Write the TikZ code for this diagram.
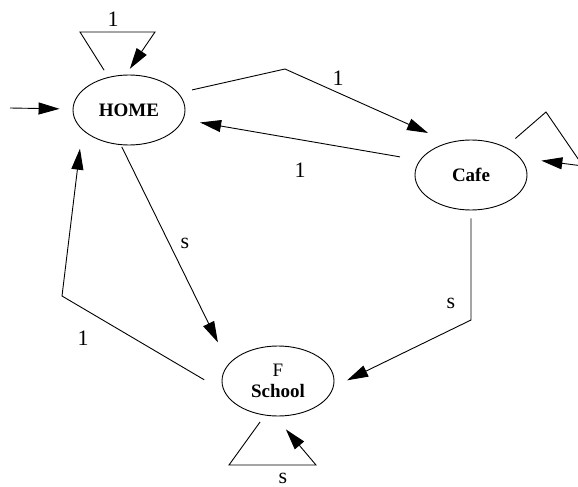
\documentclass[tikz,border=0pt]{standalone}
\usepackage{fontspec}
\setmainfont{Liberation Serif}
\usetikzlibrary{shapes.geometric,arrows.meta}
\tikzset{
  state/.style={draw,ellipse,minimum width=112pt,minimum height=70pt,inner sep=0pt,
    font=\fontsize{19}{21}\selectfont\bfseries},
  lab/.style={font=\fontsize{22}{24}\selectfont},
  arr/.style={-{Triangle[length=21pt,width=12pt]}},
}
\begin{document}
\begin{tikzpicture}[x=1pt,y=-1pt,line width=0.9pt]
    \clip (0,0) rectangle (578,487);
    \node[state] (home) at (129,110) {HOME};
    \node[state] (cafe) at (471,175) {Cafe};
    \node[state,align=center] (school) at (278,381) {{\mdseries F}\\School};
    % bends
    \coordinate (in) at (10,108);
    \coordinate (h1) at (80,32);
    \coordinate (h2) at (155,32);
    \coordinate (b1) at (285,69);
    \coordinate (b2) at (62,296);
    \coordinate (b3) at (471,320);
    \coordinate (l1) at (229,465);
    \coordinate (l2) at (316,465);
    \coordinate (c1) at (546,112);
    \coordinate (c2) at (583,166);
    % edges
    \draw [arr,shorten >=13pt] (in) -- (home);
    \draw [arr,shorten <=8pt,shorten >=7pt] (home.122) -- (h1) -- (h2) -- (home.95);
    \draw [arr,shorten <=14pt,shorten >=23pt] (home.19) -- (b1) -- (cafe.124);
    \draw [arr,shorten <=20pt,shorten >=17pt] (cafe.164) -- (home.350);
    \draw [arr,shorten <=2pt,shorten >=24pt] (home.257) -- (school.161);
    \draw [arr,shorten <=23pt,shorten >=19pt] (school.191) -- (b2) -- (home.203);
    \draw [arr,shorten <=8pt,shorten >=15pt] (cafe.270) -- (b3) -- (school.354);
    \draw [arr,shorten <=8pt,shorten >=17pt] (school.249) -- (l1) -- (l2) -- (school.265);
    \draw [arr,shorten <=13pt,shorten >=21pt] (cafe.39) -- (c1) -- (c2) -- (cafe.19);
    % labels
    \node[lab] (lhh) at (113,19) {1};
    \node[lab] (lhc) at (338,78) {1};
    \node[lab] (lch) at (300,170) {1};
    \node[lab] (lhs) at (185,243) {s};
    \node[lab] (lsh) at (83,338) {1};
    \node[lab] (lcs) at (451,303) {s};
    \node[lab] (lss) at (283,478) {s};
    \node[lab] (lcc) at (583,132) {1};
\end{tikzpicture}
\end{document}
